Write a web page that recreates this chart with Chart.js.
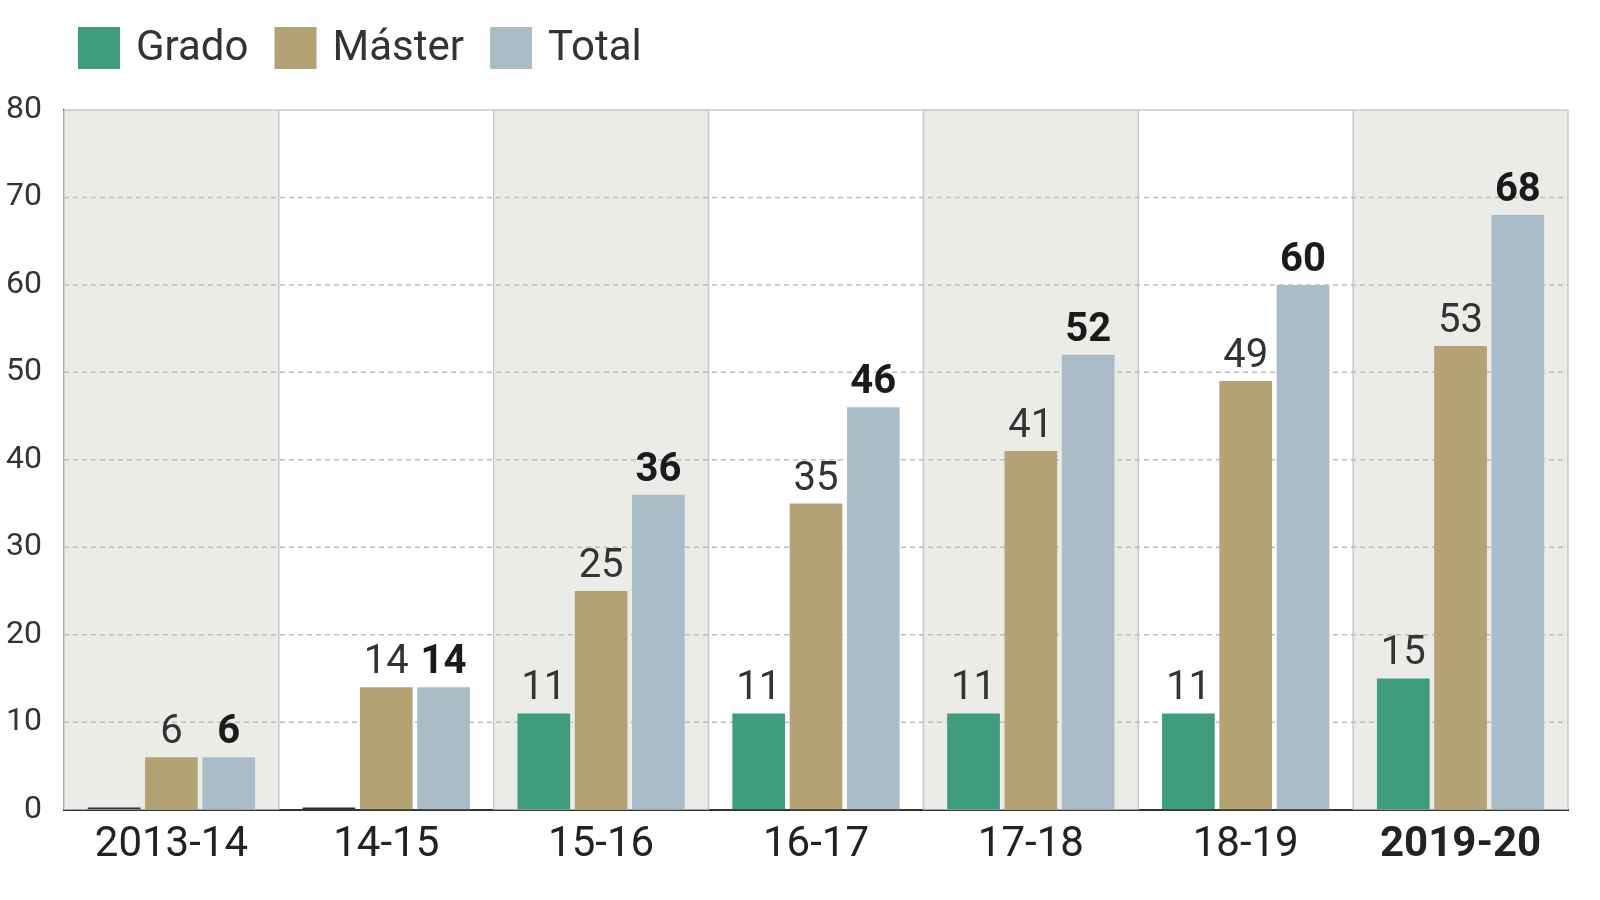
<!DOCTYPE html>
<html>
<head>
<meta charset="utf-8">
<script src="https://cdn.jsdelivr.net/npm/chart.js@4/dist/chart.umd.min.js"></script>
<style>
  body { margin: 0; background: #fff; overflow: hidden; }
  #wrap { position: absolute; left: -8px; top: 0; width: 1600px; height: 900px; }
</style>
</head>
<body>
<div id="wrap"><canvas id="c" width="1600" height="900"></canvas></div>
<script>
const categories = ['2013-14', '14-15', '15-16', '16-17', '17-18', '18-19', '2019-20'];
const grado = [0, 0, 11, 11, 11, 11, 15];
const master = [6, 14, 25, 35, 41, 49, 53];
const total = [6, 14, 36, 46, 52, 60, 68];
const yTicks = [0, 10, 20, 30, 40, 50, 60, 70, 80];
const seriesNames = ['Grado', 'Máster', 'Total'];
const seriesColors = ['#3f9d7d', '#b3a273', '#aabcc7'];

const FONT = 'Roboto, "DejaVu Sans", sans-serif';

const bandPlugin = {
  id: 'bands',
  beforeDatasetsDraw(chart) {
    const { ctx, chartArea: a } = chart;
    const w = (a.right - a.left) / categories.length;
    ctx.save();
    categories.forEach((c, i) => {
      if (i % 2 === 0) {
        ctx.fillStyle = '#ebebe8';
        ctx.fillRect(a.left + i * w, a.top, w, a.bottom - a.top);
      }
    });
    ctx.strokeStyle = '#c8c8c8';
    ctx.lineWidth = 1.5;
    for (let i = 0; i <= categories.length; i++) {
      ctx.beginPath();
      ctx.moveTo(a.left + i * w, a.top);
      ctx.lineTo(a.left + i * w, a.bottom);
      ctx.stroke();
    }
    ctx.beginPath();
    ctx.moveTo(a.left, a.top);
    ctx.lineTo(a.right, a.top);
    ctx.stroke();
    ctx.strokeStyle = '#bdbdbd';
    ctx.setLineDash([5, 4]);
    const y = chart.scales.y;
    yTicks.slice(1, -1).forEach(v => {
      const py = y.getPixelForValue(v);
      ctx.beginPath();
      ctx.moveTo(a.left, py);
      ctx.lineTo(a.right, py);
      ctx.stroke();
    });
    ctx.restore();
  },
  afterDatasetsDraw(chart) {
    const { ctx } = chart;
    ctx.save();
    ctx.textAlign = 'center';
    ctx.textBaseline = 'bottom';
    chart.data.datasets.forEach((ds, di) => {
      chart.getDatasetMeta(di).data.forEach((bar, i) => {
        const v = ds.data[i];
        if (!v) return;
        ctx.font = (di === 2 ? 'bold ' : '') + '40px ' + FONT;
        ctx.fillStyle = di === 2 ? '#1a1a1a' : '#333';
        ctx.fillText(v, bar.x, bar.y - 4);
      });
    });
    // legend
    ctx.textAlign = 'left';
    ctx.textBaseline = 'middle';
    ctx.font = '42px ' + FONT;
    let x = 86;
    seriesNames.forEach((n, i) => {
      ctx.fillStyle = seriesColors[i];
      ctx.fillRect(x, 27, 42, 42);
      ctx.fillStyle = '#333';
      ctx.fillText(n, x + 58, 49);
      x += 58 + ctx.measureText(n).width + 26;
    });
    ctx.restore();
  }
};

new Chart(document.getElementById('c'), {
  type: 'bar',
  data: {
    labels: categories,
    datasets: [
      { label: 'Grado', data: grado, backgroundColor: grado.map(v => v ? seriesColors[0] : '#333'), minBarLength: 2 },
      { label: 'Máster', data: master, backgroundColor: seriesColors[1] },
      { label: 'Total', data: total, backgroundColor: seriesColors[2] }
    ]
  },
  options: {
    responsive: false,
    animation: false,
    layout: { padding: { top: 110, right: 24, left: 0, bottom: 26 } },
    datasets: { bar: { categoryPercentage: 0.8, barPercentage: 0.92 } },
    plugins: { legend: { display: false }, tooltip: { enabled: false } },
    scales: {
      x: {
        grid: { display: false },
        border: { color: '#333', width: 2 },
        ticks: {
          color: '#222',
          font: ctx => ({ size: 42, family: FONT, weight: ctx.index === 6 ? 'bold' : 'normal' })
        }
      },
      y: {
        min: 0, max: 80,
        afterBuildTicks(axis) { axis.ticks = yTicks.map(v => ({ value: v })); },
        grid: { display: false },
        border: { color: '#333', width: 2 },
        ticks: { color: '#333', font: { size: 32, family: FONT }, padding: 14 }
      }
    }
  },
  plugins: [bandPlugin]
});
</script>
</body>
</html>
